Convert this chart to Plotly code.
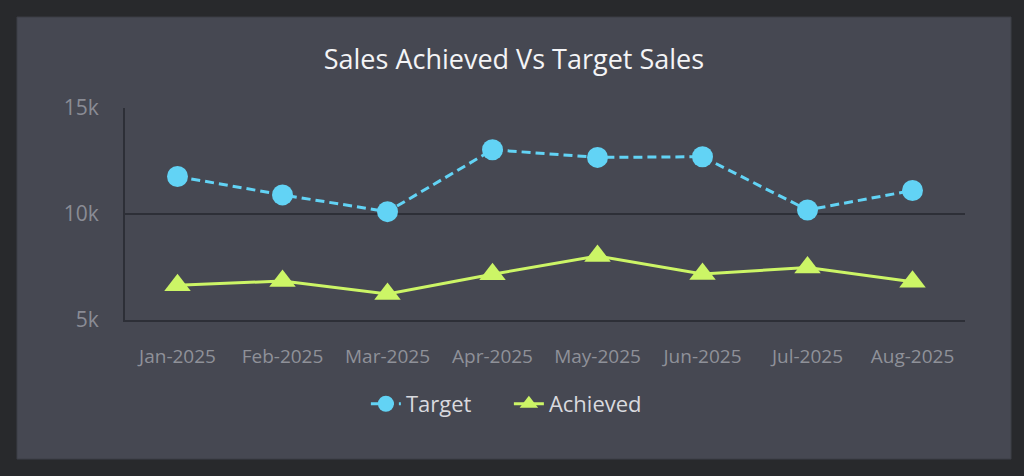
import plotly.graph_objects as go

# chart data
months = ["Jan-2025", "Feb-2025", "Mar-2025", "Apr-2025",
          "May-2025", "Jun-2025", "Jul-2025", "Aug-2025"]
target = [11770, 10900, 10110, 13030, 12670, 12700, 10190, 11110]
achieved = [6640, 6840, 6230, 7160, 8020, 7170, 7480, 6800]
y_ticks = [5000, 10000, 15000]
y_tick_labels = ["5k", "10k", "15k"]

outer_bg = "#28292c"
panel_bg = "#464852"
grid_col = "#2d2f37"

fig = go.Figure()
fig.add_trace(go.Scatter(
    x=months, y=target, name="Target", mode="lines+markers",
    line=dict(color="#62d3f5", width=3, dash="9px,5px"),
    marker=dict(symbol="circle", size=21, color="#62d3f5"),
))
fig.add_trace(go.Scatter(
    x=months, y=achieved, name="Achieved", mode="lines+markers",
    line=dict(color="#ccf566", width=3),
    marker=dict(symbol="triangle-up", size=23, color="#ccf566"),
))

# the lighter card behind the chart
fig.add_shape(type="rect", xref="paper", yref="paper",
              x0=-0.1286, x1=1.0548, y0=-0.656, y1=1.429,
              fillcolor=panel_bg, line=dict(color="#3c3e46", width=1),
              layer="below")

fig.update_layout(
    width=1024, height=476,
    paper_bgcolor=outer_bg, plot_bgcolor=panel_bg,
    margin=dict(l=125, r=59, t=108, b=156),
    font=dict(family="Open Sans", color="#d9dadf"),
    title=dict(text="Sales Achieved Vs Target Sales", x=0.463, xref="paper",
               xanchor="center", y=1 - 60 / 476, yanchor="middle",
               font=dict(size=27, color="#f4f4f6")),
    showlegend=True,
    legend=dict(orientation="h", x=0.457, xanchor="center",
                y=-0.396, yanchor="middle", bgcolor="rgba(0,0,0,0)",
                font=dict(size=22, color="#d9dadf"), entrywidth=98),
    xaxis=dict(type="category", range=[-0.5, 7.5], showgrid=False,
               showline=True, linecolor=grid_col, linewidth=2,
               ticks="", ticklabelstandoff=18,
               tickfont=dict(size=19, color="#8f9199"), zeroline=False),
    yaxis=dict(range=[5000, 15000], tickvals=y_ticks, ticktext=y_tick_labels,
               showgrid=True, gridcolor=grid_col, gridwidth=1.5,
               showline=True, linecolor=grid_col, linewidth=2,
               ticks="", ticklabelstandoff=20,
               tickfont=dict(size=21, color="#8a8c95"), zeroline=False),
)

# drop the default page margin so the chart sits at the window corner
fig.write_html("out.html", config={"displayModeBar": False},
               post_script="document.body.style.margin='0';")
